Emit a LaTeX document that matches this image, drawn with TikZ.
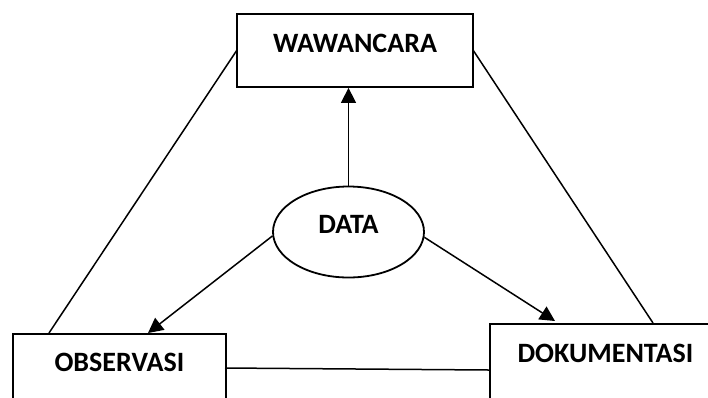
\documentclass[tikz,border=0pt]{standalone}
\usepackage{fontspec}
\setmainfont{Carlito}
\usetikzlibrary{arrows.meta,shapes.geometric,calc}
\begin{document}
\begin{tikzpicture}[x=1pt,y=-1pt,
  box/.style={draw,line width=1.8pt,rectangle,inner sep=0pt,font=\bfseries\fontsize{28}{32}\selectfont},
  oval/.style={draw,line width=1.8pt,ellipse,inner sep=0pt,minimum width=151pt,minimum height=91pt,text height=12pt,text depth=9pt,font=\bfseries\fontsize{28}{32}\selectfont},
  conn/.style={line width=1.5pt},
  arr/.style={line width=1.5pt,-{Triangle[length=15pt,width=15pt]}}]
\useasboundingbox (0,0) rectangle (708,397);
\clip (0,0) rectangle (708,397);
\node[box,minimum width=236pt,text height=38pt,text depth=35pt] (waw) at (355,50.5) {WAWANCARA};
\node[box,anchor=north west,minimum width=213pt,text height=37.5pt,text depth=45pt] (obs) at (12,333) {OBSERVASI};
\node[box,anchor=north west,minimum width=231pt,text height=38.5pt,text depth=45pt] (dok) at (489,323) {DOKUMENTASI};
\node[oval] (data) at (348.5,232) {DATA};
% connection points
\coordinate (obsA) at (148,333);
\coordinate (obsB) at (49,333);
\coordinate (obsC) at (225,368);
\coordinate (dokA) at (555,321);
\coordinate (dokB) at (653,323);
\coordinate (dokC) at (489,370);
\coordinate (wawL) at (237,50);
\coordinate (wawR) at (473,50);
\draw[arr] (data.north) -- (data.north |- waw.south);
\draw[arr] (data.183) -- (obsA);
\draw[arr] (data.-4) -- (dokA);
\draw[conn] (wawL) -- (obsB);
\draw[conn] (wawR) -- (dokB);
\draw[conn] (obsC) -- (dokC);
\end{tikzpicture}
\end{document}
